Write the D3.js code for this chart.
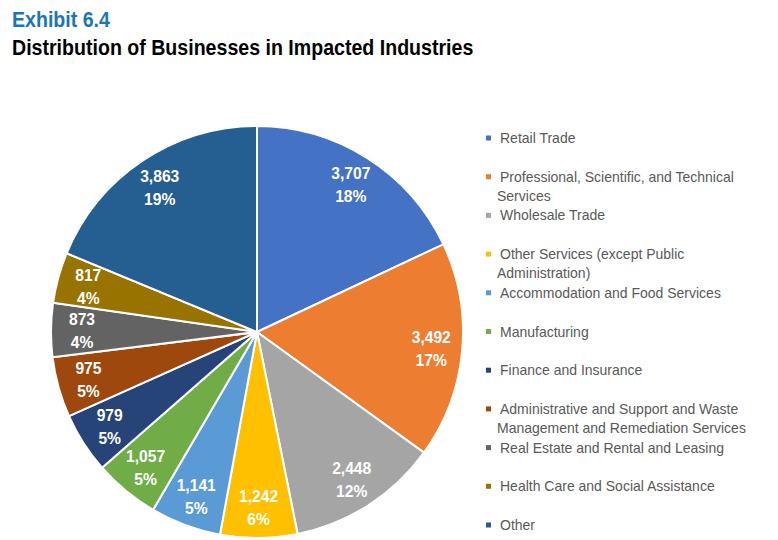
<!DOCTYPE html>
<html>
<head>
<meta charset="utf-8">
<script src="https://cdn.jsdelivr.net/npm/d3@7"></script>
<style>
  html, body { margin: 0; padding: 0; background: #fff; }
  svg { display: block; font-family: "Liberation Sans", Arial, sans-serif; }
</style>
</head>
<body>
<svg id="chart" width="778" height="540"></svg>
<script>
const categories = [
  "Retail Trade",
  "Professional, Scientific, and Technical Services",
  "Wholesale Trade",
  "Other Services (except Public Administration)",
  "Accommodation and Food Services",
  "Manufacturing",
  "Finance and Insurance",
  "Administrative and Support and Waste Management and Remediation Services",
  "Real Estate and Rental and Leasing",
  "Health Care and Social Assistance",
  "Other"
];
const values = [3707, 3492, 2448, 1242, 1141, 1057, 979, 975, 873, 817, 3863];
const pctLabels = ["18%", "17%", "12%", "6%", "5%", "5%", "5%", "5%", "4%", "4%", "19%"];
const colors = ["#4472C4", "#ED7D31", "#A5A5A5", "#FFC000", "#5B9BD5", "#70AD47",
                "#264478", "#9E480E", "#636363", "#997300", "#255E91"];
const titleText = "Exhibit 6.4";
const subtitleText = "Distribution of Businesses in Impacted Industries";

const svg = d3.select("#chart");

// condense text horizontally (source uses a narrow face)
function condense(sel, f) {
  sel.each(function () {
    const w = this.getComputedTextLength();
    d3.select(this).attr("textLength", w * f).attr("lengthAdjust", "spacingAndGlyphs");
  });
}

// Titles
svg.append("text").attr("x", 12).attr("y", 27)
  .attr("font-size", 22).attr("font-weight", "bold").attr("fill", "#1b75bb")
  .text(titleText).call(condense, 0.89);
svg.append("text").attr("x", 12).attr("y", 55)
  .attr("font-size", 22).attr("font-weight", "bold").attr("fill", "#000")
  .text(subtitleText).call(condense, 0.89);

// Pie
const cx = 257, cy = 332, R = 206, labelR = 175;
const color = d3.scaleOrdinal().domain(categories).range(colors);
const pie = d3.pie().sort(null).value(d => d.value);
const data = categories.map((c, i) => ({ name: c, value: values[i], pct: pctLabels[i] }));
const arcs = pie(data);
const arc = d3.arc().innerRadius(0).outerRadius(R);
const labelArc = d3.arc().innerRadius(labelR).outerRadius(labelR);
const fmt = d3.format(",");

const g = svg.append("g").attr("transform", `translate(${cx},${cy})`);
g.selectAll("path.slice").data(arcs).join("path")
  .attr("class", "slice")
  .attr("d", arc)
  .attr("fill", d => color(d.data.name))
  .attr("stroke", "#fff").attr("stroke-width", 2).attr("stroke-linejoin", "round");

const lab = g.selectAll("g.lab").data(arcs).join("g")
  .attr("class", "lab")
  .attr("transform", d => `translate(${labelArc.centroid(d)})`);
lab.append("text").attr("text-anchor", "middle").attr("y", -5)
  .attr("font-size", 17).attr("font-weight", "bold").attr("fill", "#fff")
  .text(d => fmt(d.data.value)).call(condense, 0.92);
lab.append("text").attr("text-anchor", "middle").attr("y", 18)
  .attr("font-size", 17).attr("font-weight", "bold").attr("fill", "#fff")
  .text(d => d.data.pct).call(condense, 0.92);

// Legend
const legX = 486, legY0 = 138, legStep = 38.7, maxW = 250, legF = 0.965;
const leg = svg.append("g");
categories.forEach((c, i) => {
  const y = legY0 + i * legStep;
  leg.append("rect").attr("x", legX).attr("y", y - 2.5).attr("width", 5).attr("height", 5)
    .attr("fill", colors[i]);
  // word wrap
  const words = c.split(" ");
  const lines = [];
  let cur = "";
  const probe = leg.append("text").attr("font-size", 14.5);
  words.forEach(w => {
    const t = cur ? cur + " " + w : w;
    probe.text(t);
    if (probe.node().getComputedTextLength() * legF > maxW && cur) {
      lines.push(cur); cur = w;
    } else cur = t;
  });
  lines.push(cur);
  probe.remove();
  lines.forEach((ln, k) => {
    leg.append("text").attr("x", k === 0 ? 500 : 497).attr("y", y + 5 + k * 19)
      .attr("font-size", 14.5).attr("fill", "#595959")
      .text(ln).call(condense, legF);
  });
});
</script>
</body>
</html>
